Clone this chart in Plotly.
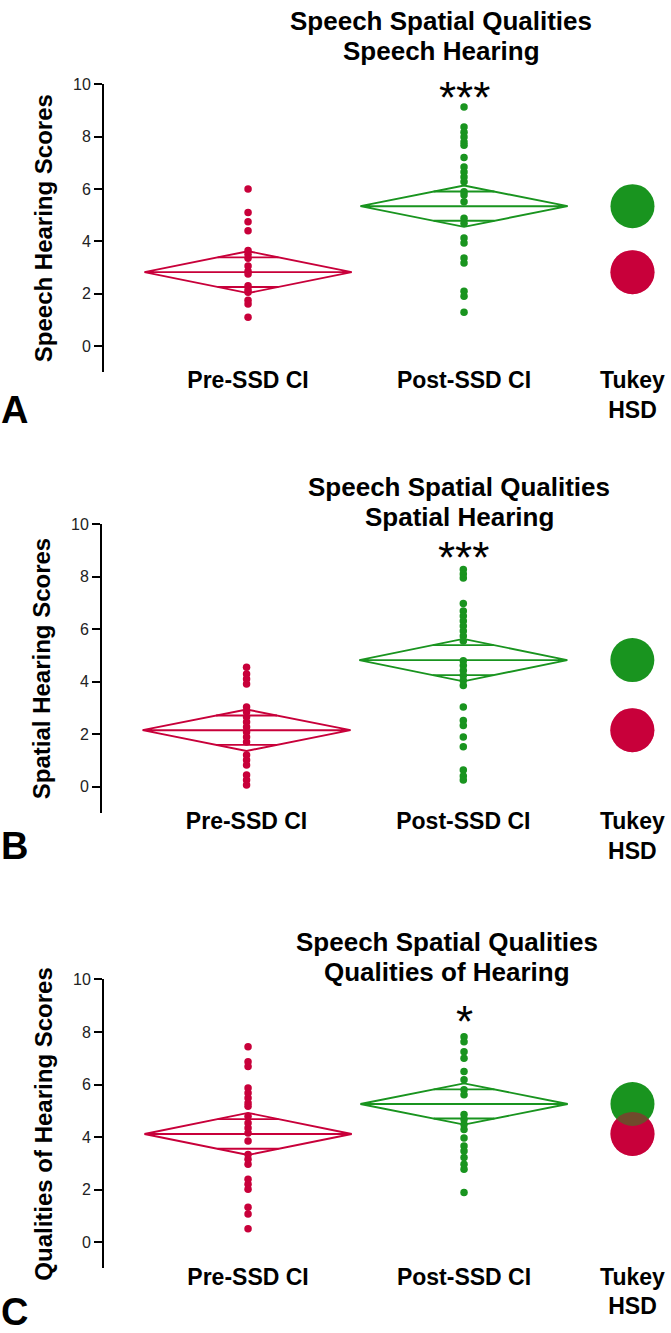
import math
import plotly.graph_objects as go

# ---------------- data ----------------
x_labels = ["Pre-SSD CI", "Post-SSD CI", "Tukey<br>HSD"]
x_pos = [1, 2, 2.78]

speech_pre = [6.0, 5.1, 4.75, 4.4, 3.65, 3.5, 3.35, 3.05, 2.85, 2.75, 2.3, 2.15, 2.05, 1.75, 1.6, 1.1]
speech_post = [9.13, 8.37, 8.17, 7.98, 7.79, 7.67, 7.2, 6.84, 6.65, 6.46, 6.27, 5.89, 5.77, 5.51,
               4.88, 4.69, 4.12, 3.93, 3.36, 3.17, 2.09, 1.90, 1.29]
speech_means = [2.82, 5.34]
speech_ci = [0.80, 0.79]

spatial_pre = [4.55, 4.29, 4.10, 3.91, 3.03, 2.84, 2.65, 2.46, 2.27, 2.08, 1.89, 1.70,
               1.20, 1.01, 0.82, 0.44, 0.25, 0.06]
spatial_post = [8.27, 8.1, 7.95, 6.98, 6.69, 6.50, 6.31, 6.12, 5.93, 5.74, 5.55, 4.80, 4.61,
                4.42, 4.23, 4.04, 3.85, 3.03, 2.52, 2.33, 1.89, 1.52, 0.63, 0.40, 0.25]
spatial_means = [2.15, 4.82]
spatial_ci = [0.79, 0.81]

qualities_pre = [7.44, 6.87, 6.69, 5.87, 5.68, 5.49, 5.30, 5.17, 4.79, 4.54, 4.35, 4.16, 3.85,
                 3.34, 3.16, 2.97, 2.40, 2.21, 2.02, 1.33, 1.07, 0.51]
qualities_post = [7.82, 7.63, 7.25, 7.00, 6.50, 6.18, 5.8, 5.61, 4.86, 4.67, 4.48, 4.29, 3.97,
                  3.66, 3.47, 3.22, 2.97, 2.78, 1.89]
qualities_means = [4.12, 5.26]
qualities_ci = [0.80, 0.785]

panel_titles = [["Speech Spatial Qualities", "Speech Hearing"],
                ["Speech Spatial Qualities", "Spatial Hearing"],
                ["Speech Spatial Qualities", "Qualities of Hearing"]]
y_titles = ["Speech Hearing Scores", "Spatial Hearing Scores", "Qualities of Hearing Scores"]
stars = ["***", "***", "*"]
letters = ["A", "B", "C"]
y_ticks = [0, 2, 4, 6, 8, 10]

RED = "#C8003A"
GREEN = "#19941F"
colors = [RED, GREEN]

W, H = 671, 1333
FONT = "Liberation Sans, Arial"

panels = [
    dict(pre=speech_pre, post=speech_post, means=speech_means, ci=speech_ci,
         top=76.7, bot=366.3, left=104, title_x=441, title_y=(13.3, 43.3), star_y=85, letter_y=404),
    dict(pre=spatial_pre, post=spatial_post, means=spatial_means, ci=spatial_ci,
         top=519.3, bot=809.7, left=102, title_x=459, title_y=(481.7, 511.7), star_y=548, letter_y=843),
    dict(pre=qualities_pre, post=qualities_post, means=qualities_means, ci=qualities_ci,
         top=977.3, bot=1268.1, left=104, title_x=447, title_y=(940, 970), star_y=1015, letter_y=1312),
]

fig = go.Figure()
annotations = []
HALF_W = 0.48
X0 = 0.333

for i, p in enumerate(panels):
    sfx = "" if i == 0 else str(i + 1)
    xa, ya = "x" + sfx, "y" + sfx
    groups = [p["pre"], p["post"]]
    for g in range(2):
        xc = x_pos[g]
        m, h = p["means"][g], p["ci"][g]
        col = colors[g]
        # means diamond
        fig.add_trace(go.Scatter(
            x=[xc - HALF_W, xc, xc + HALF_W, xc, xc - HALF_W, xc + HALF_W],
            y=[m, m + h, m, m - h, m, m],
            mode="lines", line=dict(color=col, width=1.9),
            xaxis=xa, yaxis=ya, showlegend=False, hoverinfo="skip"))
        # overlap marks
        k = 1 / math.sqrt(2)
        ow = HALF_W * (1 - k)
        fig.add_trace(go.Scatter(
            x=[xc - ow, xc + ow, None, xc - ow, xc + ow],
            y=[m + h * k, m + h * k, None, m - h * k, m - h * k],
            mode="lines", line=dict(color=col, width=1.9),
            xaxis=xa, yaxis=ya, showlegend=False, hoverinfo="skip"))
        # points
        fig.add_trace(go.Scatter(
            x=[xc] * len(groups[g]), y=groups[g], mode="markers",
            marker=dict(color=col, size=7.5),
            xaxis=xa, yaxis=ya, showlegend=False))
    # Tukey comparison circles: red, green, then translucent red on top
    fig.add_trace(go.Scatter(x=[x_pos[2]], y=[p["means"][0]], mode="markers",
                             marker=dict(color=RED, size=44), xaxis=xa, yaxis=ya,
                             showlegend=False, cliponaxis=False))
    fig.add_trace(go.Scatter(x=[x_pos[2]], y=[p["means"][1]], mode="markers",
                             marker=dict(color=GREEN, size=44), xaxis=xa, yaxis=ya,
                             showlegend=False, cliponaxis=False))
    fig.add_trace(go.Scatter(x=[x_pos[2]], y=[p["means"][0]], mode="markers",
                             marker=dict(color=RED, size=44, opacity=0.5), xaxis=xa, yaxis=ya,
                             showlegend=False, cliponaxis=False))

    x_right = 1 + (W - 248) / 216
    fig.layout["xaxis" + sfx] = dict(
        domain=[p["left"] / W, 1], range=[X0, x_right], anchor="free",
        position=1 - (p["bot"] - 8) / H,
        showline=False, showgrid=False, zeroline=False, ticks="",
        tickmode="array", tickvals=x_pos, ticktext=x_labels,
        tickfont=dict(family=FONT, size=23, color="black", weight="bold"))
    fig.layout["yaxis" + sfx] = dict(
        domain=[1 - p["bot"] / H, 1 - p["top"] / H], range=[-1, 10], anchor=xa,
        showline=True, linecolor="black", linewidth=2, showgrid=False, zeroline=False,
        ticks="outside", ticklen=8, tickwidth=1.5, tickcolor="black",
        tickmode="array", tickvals=y_ticks,
        tickfont=dict(family=FONT, size=16, color="#222"),
        title=dict(text=y_titles[i], standoff=14,
                   font=dict(family=FONT, size=24, color="black", weight="bold")))

    for line_text, ty in zip(panel_titles[i], p["title_y"]):
        annotations.append(dict(text=line_text, x=p["title_x"] / W, y=1 - ty / H,
                                xref="paper", yref="paper", xanchor="center", yanchor="middle",
                                showarrow=False,
                                font=dict(family=FONT, size=26, color="black", weight="bold")))
    annotations.append(dict(text=stars[i], x=x_pos[1], xref=xa, y=1 - p["star_y"] / H, yref="paper",
                            xanchor="center", yanchor="middle", yshift=-5, showarrow=False,
                            font=dict(family=FONT, size=44, color="black")))
    annotations.append(dict(text=letters[i], x=14 / W, y=1 - p["letter_y"] / H,
                            xref="paper", yref="paper", xanchor="center", yanchor="middle",
                            showarrow=False,
                            font=dict(family=FONT, size=38, color="black", weight="bold")))

fig.update_layout(width=W, height=H, margin=dict(l=0, r=0, t=0, b=0),
                  plot_bgcolor="white", paper_bgcolor="white",
                  annotations=annotations, showlegend=False)

fig.write_html(
    "out.html",
    config={"displayModeBar": False},
    post_script=(
        "document.body.style.margin='0';document.body.style.padding='0';"
        "document.documentElement.style.overflow='hidden';"
        "var gd=document.getElementById('{plot_id}');"
        "gd.style.position='absolute';gd.style.top='0px';gd.style.left='0px';"
    ))
